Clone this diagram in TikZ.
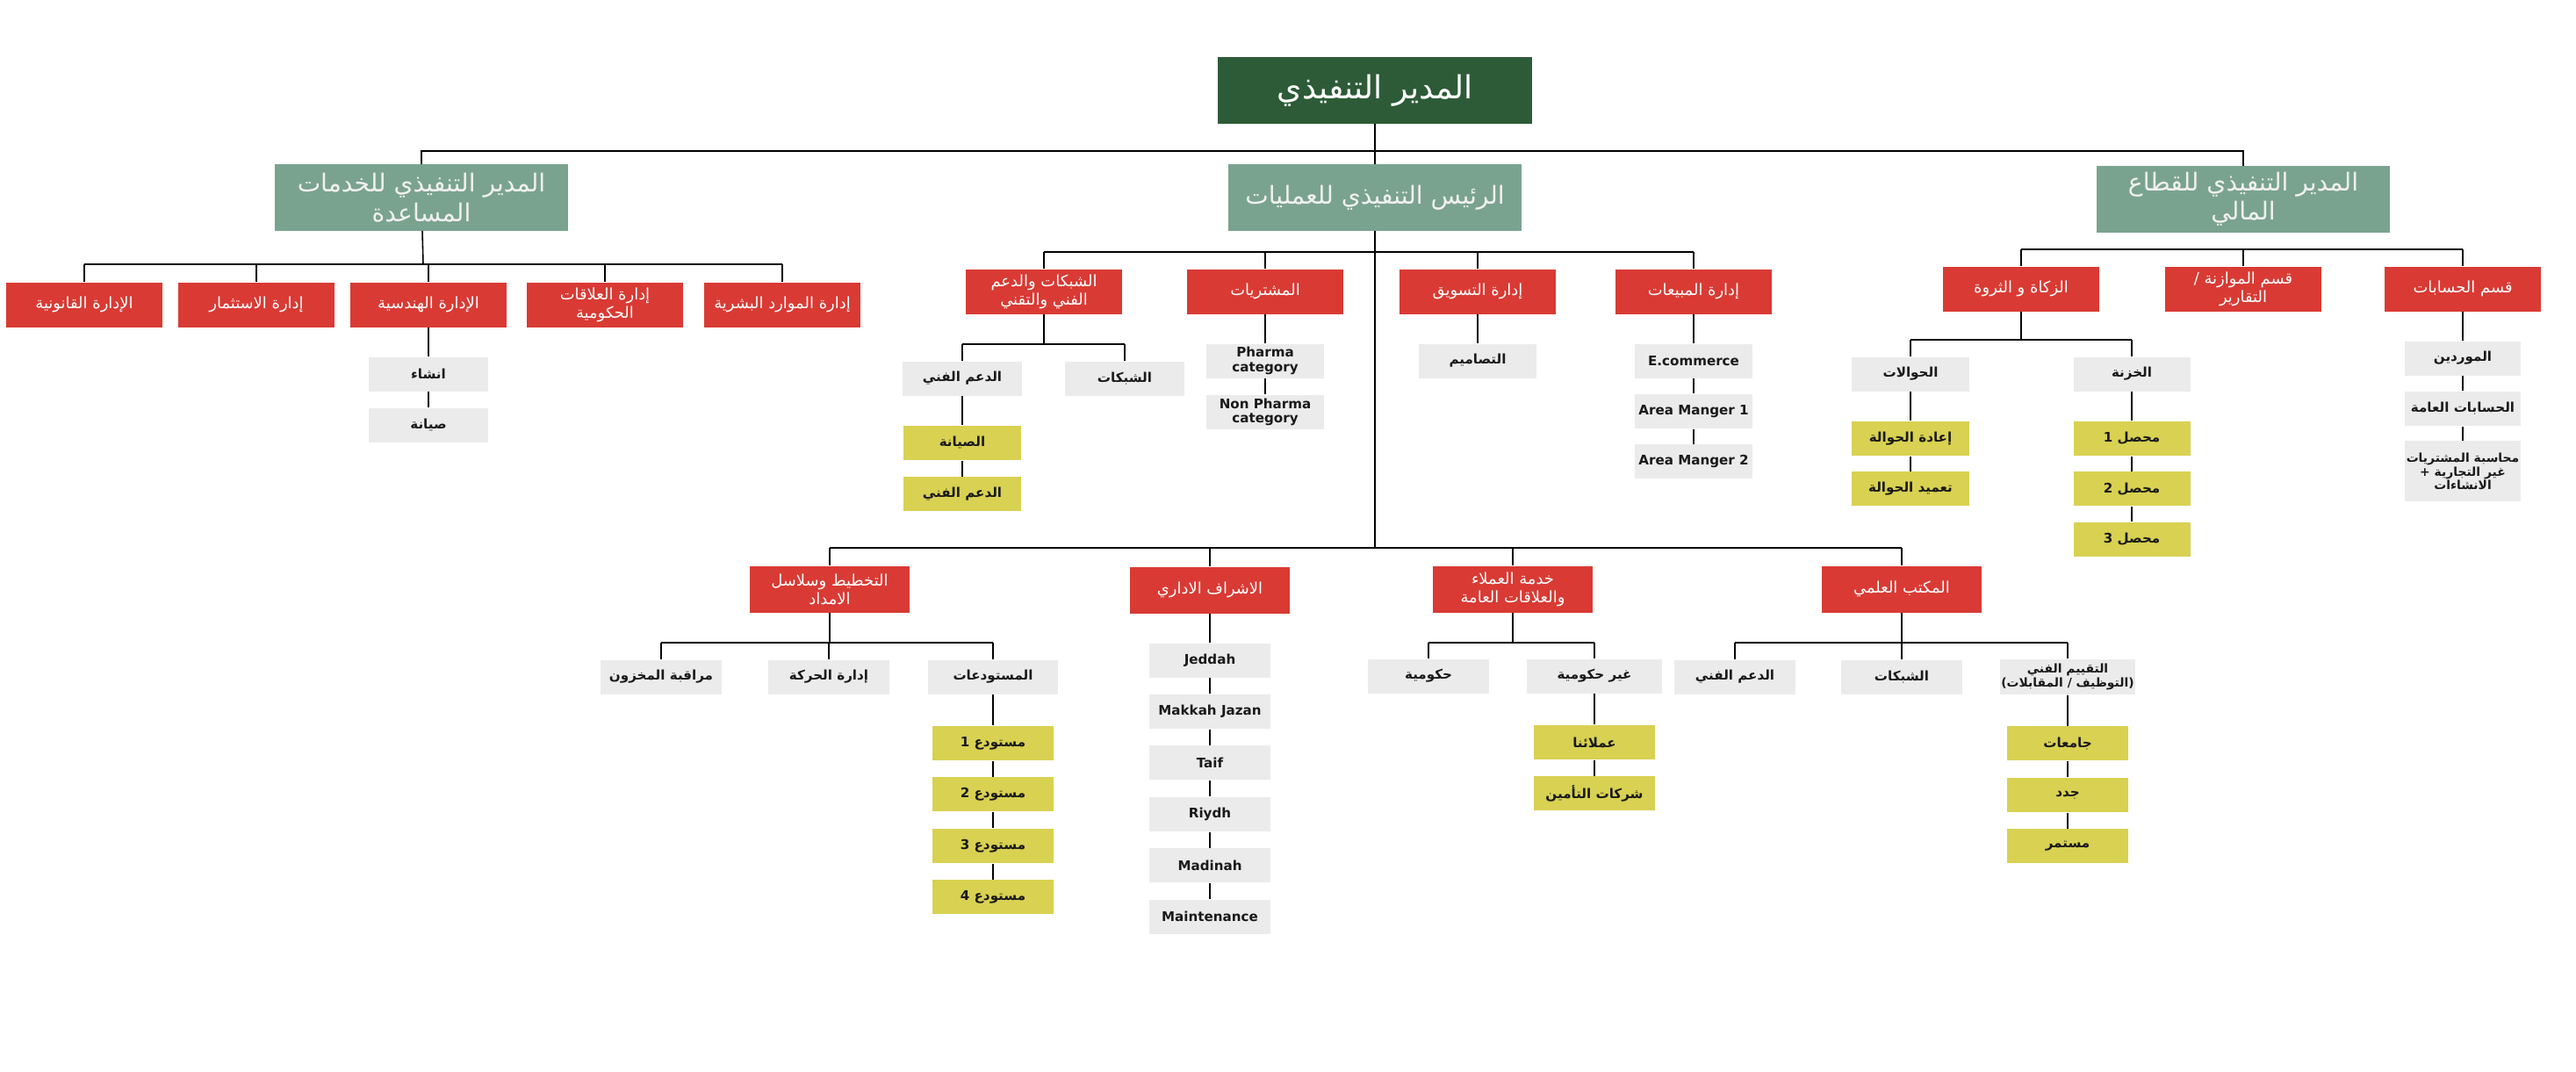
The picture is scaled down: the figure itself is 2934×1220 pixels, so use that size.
\documentclass[tikz,border=0pt]{standalone}
\usepackage{fontspec}
\setmainfont{DejaVu Sans}
\newfontfamily\arabicfont[Script=Arabic]{DejaVu Sans}
\TeXXeTstate=1
\usetikzlibrary{positioning}
\definecolor{ceogreen}{HTML}{2D5B37}
\definecolor{sage}{HTML}{7AA38F}
\definecolor{deptred}{HTML}{D93A34}
\definecolor{unitgray}{HTML}{EBEBEB}
\definecolor{teamyellow}{HTML}{D8D152}
\definecolor{inkdark}{HTML}{1A1A1A}
\newcommand{\artext}[1]{{\arabicfont\beginR #1\endR}}

\begin{document}
\begin{tikzpicture}[x=0.01cm, y=-0.01cm, node distance=0.18cm,
    chief/.style={rectangle, fill=ceogreen, text=white, minimum width=3.57cm, minimum height=0.75cm, align=center, font=\fontsize{10.3}{12}\selectfont},
    head/.style={rectangle, fill=sage, text=white!94!black, minimum width=3.33cm, minimum height=0.75cm, align=center, inner sep=1pt, font=\fontsize{8}{9.5}\selectfont},
    dept/.style={rectangle, fill=deptred, text=white, minimum width=1.77cm, minimum height=0.51cm, align=center, inner sep=1pt, font=\fontsize{5.1}{6}\selectfont},
    lowdept/.style={dept, minimum width=1.81cm, minimum height=0.53cm},
    unit/.style={rectangle, fill=unitgray, text=inkdark, minimum width=1.35cm, minimum height=0.39cm, align=center, inner sep=1pt, font=\fontsize{4.3}{4.7}\selectfont\bfseries},
    team/.style={unit, fill=teamyellow, minimum width=1.37cm},
    small/.style={inner sep=0pt, font=\fontsize{3.95}{4.5}\selectfont\bfseries},
    link/.style={line width=0.45pt, color=black}
]
\useasboundingbox (0,0) rectangle (2934,1220);

% top level
\node[chief] (ceo) at (1566,103) {\artext{المدير التنفيذي}};
\node[head] (support) at (480,225) {\artext{المدير التنفيذي للخدمات}\\\artext{المساعدة}};
\node[head] (ops) at (1566,225) {\artext{الرئيس التنفيذي للعمليات}};
\node[head] (finance) at (2555,227) {\artext{المدير التنفيذي للقطاع}\\\artext{المالي}};
\coordinate (topbus) at (1566,172);
\draw[link] (ceo) -- (topbus);
\draw[link] (support.north) |- (topbus) -| (finance.north);
\draw[link] (topbus) -- (ops.north);

% support services
\coordinate (supbus) at (482,301);
\node[dept] (legal) at (96,347) {\artext{الإدارة القانونية}};
\node[dept] (invest) at (292,347) {\artext{إدارة الاستثمار}};
\node[dept] (eng) at (488,347) {\artext{الإدارة الهندسية}};
\node[dept] (govrel) at (689,347) {\artext{إدارة العلاقات}\\\artext{الحكومية}};
\node[dept] (hr) at (891,347) {\artext{إدارة الموارد البشرية}};
\draw[link] (support) -- (supbus);
\draw[link] (legal.north |- supbus) -- (hr.north |- supbus);
\foreach \d in {legal,invest,eng,govrel,hr}
    \draw[link] (\d.north |- supbus) -- (\d.north);
\node[unit] (build) at (488,426) {\artext{انشاء}};
\node[unit, below=of build] (upkeep) {\artext{صيانة}};
\draw[link] (eng) -- (build) -- (upkeep);

% operations
\coordinate (opsbus) at (1566,287);
\coordinate (lowbus) at (1566,624);
\node[dept] (nettech) at (1189,332) {\artext{الشبكات والدعم}\\\artext{الفني والتقني}};
\node[dept] (purch) at (1441,332) {\artext{المشتريات}};
\node[dept] (mkt) at (1683,332) {\artext{إدارة التسويق}};
\node[dept] (sales) at (1929,332) {\artext{إدارة المبيعات}};
\draw[link] (ops) -- (lowbus);
\draw[link] (nettech.north |- opsbus) -- (sales.north |- opsbus);
\foreach \d in {nettech,purch,mkt,sales}
    \draw[link] (\d.north |- opsbus) -- (\d.north);

\coordinate (netbus) at (1189,392);
\node[unit] (techsup) at (1096,431) {\artext{الدعم الفني}};
\node[unit] (networks) at (1281,431) {\artext{الشبكات}};
\node[team, minimum width=1.33cm, below=0.33cm of techsup] (repair) {\artext{الصيانة}};
\node[team, minimum width=1.33cm, below=of repair] (techhelp) {\artext{الدعم الفني}};
\draw[link] (nettech) -- (netbus);
\draw[link] (techsup.north |- netbus) -- (networks.north |- netbus);
\draw[link] (techsup.north |- netbus) -- (techsup.north);
\draw[link] (networks.north |- netbus) -- (networks.north);
\draw[link] (techsup) -- (repair) -- (techhelp);

\node[unit, minimum width=1.33cm] (pharma) at (1441,411) {Pharma\\category};
\node[unit, minimum width=1.33cm, below=of pharma] (nonpharma) {Non Pharma\\category};
\draw[link] (purch) -- (pharma) -- (nonpharma);

\node[unit, minimum width=1.33cm] (designs) at (1683,411) {\artext{التصاميم}};
\draw[link] (mkt) -- (designs);

\node[unit, minimum width=1.33cm] (ecom) at (1929,411) {E.commerce};
\node[unit, minimum width=1.33cm, below=0.17cm of ecom] (area1) {Area Manger 1};
\node[unit, minimum width=1.33cm, below=0.17cm of area1] (area2) {Area Manger 2};
\draw[link] (sales) -- (ecom) -- (area1) -- (area2);

% finance
\coordinate (finbus) at (2555,284);
\node[dept] (zakat) at (2302,329) {\artext{الزكاة و الثروة}};
\node[dept] (budget) at (2555,329) {\artext{قسم الموازنة /}\\\artext{التقارير}};
\node[dept] (accounts) at (2805,329) {\artext{قسم الحسابات}};
\draw[link] (zakat.north |- finbus) -- (accounts.north |- finbus);
\foreach \d in {zakat,budget,accounts}
    \draw[link] (\d.north |- finbus) -- (\d.north);

\coordinate (zakatbus) at (2302,387);
\node[unit, minimum width=1.33cm] (transfers) at (2176,426) {\artext{الحوالات}};
\node[unit, minimum width=1.33cm] (treasury) at (2428,426) {\artext{الخزنة}};
\node[team, minimum width=1.33cm, below=0.33cm of transfers] (retransfer) {\artext{إعادة الحوالة}};
\node[team, minimum width=1.33cm, below=0.17cm of retransfer] (approval) {\artext{تعميد الحوالة}};
\node[team, minimum width=1.33cm, below=0.33cm of treasury] (collector1) {\artext{محصل 1}};
\node[team, minimum width=1.33cm, below=0.17cm of collector1] (collector2) {\artext{محصل 2}};
\node[team, minimum width=1.33cm, below=0.17cm of collector2] (collector3) {\artext{محصل 3}};
\draw[link] (zakat) -- (zakatbus);
\draw[link] (transfers.north |- zakatbus) -- (treasury.north |- zakatbus);
\draw[link] (transfers.north |- zakatbus) -- (transfers.north);
\draw[link] (treasury.north |- zakatbus) -- (treasury.north);
\draw[link] (transfers) -- (retransfer) -- (approval);
\draw[link] (treasury) -- (collector1) -- (collector2) -- (collector3);

\node[unit, minimum width=1.32cm] (suppliers) at (2805,408) {\artext{الموردين}};
\node[unit, minimum width=1.32cm, below=0.17cm of suppliers] (genacc) {\artext{الحسابات العامة}};
\node[unit, small, minimum width=1.32cm, minimum height=0.69cm, below=0.16cm of genacc] (nontrade) {\artext{محاسبة المشتريات}\\\artext{غير التجارية +}\\\artext{الانشاءات}};
\draw[link] (accounts) -- (suppliers) -- (genacc) -- (nontrade);

% lower operations row
\node[lowdept] (planning) at (945,671) {\artext{التخطيط وسلاسل}\\\artext{الامداد}};
\node[lowdept] (admin) at (1378,672) {\artext{الاشراف الاداري}};
\node[lowdept] (custsvc) at (1723,671) {\artext{خدمة العملاء}\\\artext{والعلاقات العامة}};
\node[lowdept] (sciofc) at (2166,671) {\artext{المكتب العلمي}};
\draw[link] (planning.north |- lowbus) -- (sciofc.north |- lowbus);
\foreach \d in {planning,admin,custsvc,sciofc}
    \draw[link] (\d.north |- lowbus) -- (\d.north);

\coordinate (planbus) at (945,732);
\node[unit, minimum width=1.37cm] (stockctl) at (753,771) {\artext{مراقبة المخزون}};
\node[unit, minimum width=1.37cm] (movement) at (944,771) {\artext{إدارة الحركة}};
\node[unit, minimum width=1.47cm] (stores) at (1131,771) {\artext{المستودعات}};
\node[team, below=0.35cm of stores] (store1) {\artext{مستودع 1}};
\node[team, below=of store1] (store2) {\artext{مستودع 2}};
\node[team, below=of store2] (store3) {\artext{مستودع 3}};
\node[team, below=of store3] (store4) {\artext{مستودع 4}};
\draw[link] (planning) -- (planbus);
\draw[link] (stockctl.north |- planbus) -- (stores.north |- planbus);
\foreach \d in {stockctl,movement,stores}
    \draw[link] (\d.north |- planbus) -- (\d.north);
\draw[link] (stores) -- (store1) -- (store2) -- (store3) -- (store4);

\node[unit, minimum width=1.37cm] (jeddah) at (1378,752) {Jeddah};
\node[unit, minimum width=1.37cm, below=of jeddah] (makkah) {Makkah Jazan};
\node[unit, minimum width=1.37cm, below=of makkah] (taif) {Taif};
\node[unit, minimum width=1.37cm, below=of taif] (riyadh) {Riydh};
\node[unit, minimum width=1.37cm, below=of riyadh] (madinah) {Madinah};
\node[unit, minimum width=1.37cm, below=of madinah] (upkeepteam) {Maintenance};
\draw[link] (admin) -- (jeddah) -- (makkah) -- (taif) -- (riyadh) -- (madinah) -- (upkeepteam);

\coordinate (custbus) at (1723,732);
\node[unit, minimum width=1.37cm] (govt) at (1627,770) {\artext{حكومية}};
\node[unit, minimum width=1.54cm] (nongovt) at (1816,770) {\artext{غير حكومية}};
\node[team, below=0.35cm of nongovt] (clients) {\artext{عملائنا}};
\node[team, below=of clients] (insurers) {\artext{شركات التأمين}};
\draw[link] (custsvc) -- (custbus);
\draw[link] (govt.north |- custbus) -- (nongovt.north |- custbus);
\draw[link] (govt.north |- custbus) -- (govt.north);
\draw[link] (nongovt.north |- custbus) -- (nongovt.north);
\draw[link] (nongovt) -- (clients) -- (insurers);

\coordinate (scibus) at (2166,732);
\node[unit, minimum width=1.37cm] (scisupport) at (1976,771) {\artext{الدعم الفني}};
\node[unit, minimum width=1.37cm] (scinet) at (2166,771) {\artext{الشبكات}};
\node[unit, small, minimum width=1.54cm, minimum height=0.4cm] (evaluation) at (2355,771) {\artext{التقييم الفني}\\\artext{(التوظيف / المقابلات)}};
\node[team, below=0.35cm of evaluation] (universities) {\artext{جامعات}};
\node[team, below=of universities] (newhires) {\artext{جدد}};
\node[team, below=of newhires] (ongoing) {\artext{مستمر}};
\draw[link] (sciofc) -- (scibus);
\draw[link] (scisupport.north |- scibus) -- (evaluation.north |- scibus);
\foreach \d in {scisupport,scinet,evaluation}
    \draw[link] (\d.north |- scibus) -- (\d.north);
\draw[link] (evaluation) -- (universities) -- (newhires) -- (ongoing);
\end{tikzpicture}
\end{document}
